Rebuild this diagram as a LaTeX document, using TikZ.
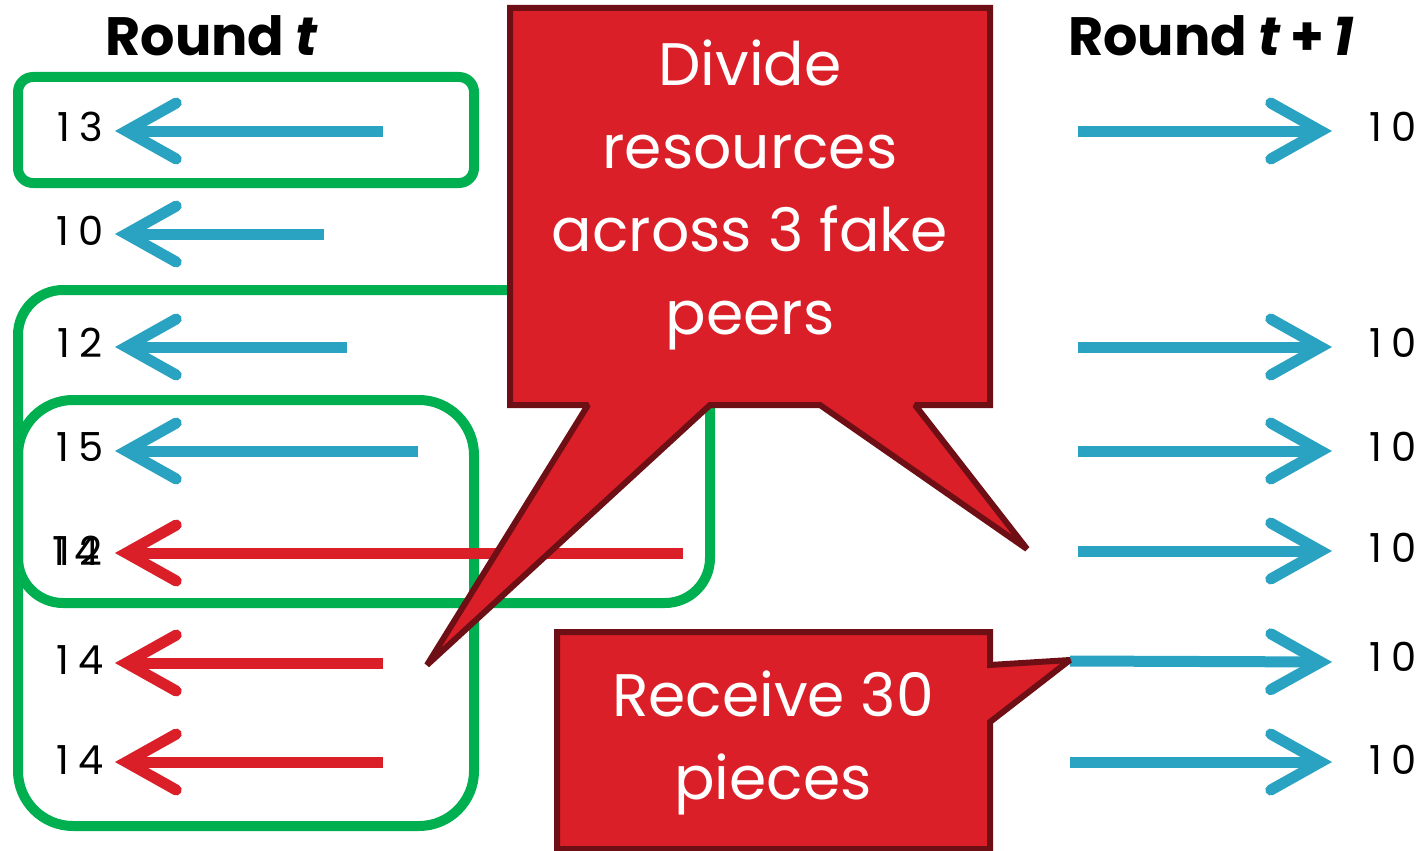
\documentclass[tikz,border=0pt]{standalone}
\usepackage{fontspec}
\setmainfont{Poppins}
\newfontfamily\numfont[LetterSpace=22]{Poppins}
\usetikzlibrary{arrows.meta}
\definecolor{cblue}{HTML}{2AA3C3}
\definecolor{cred}{HTML}{DA1F28}
\definecolor{cgreen}{HTML}{00B050}
\definecolor{cdark}{HTML}{6E0F15}
\begin{document}
\begin{tikzpicture}[x=1pt,y=-1pt,
  arr/.style={line width=11pt,-{Straight Barb[length=50pt,width=56pt,line cap=round,line join=miter]}},
  barr/.style={arr,cblue},
  rarr/.style={arr,cred},
  gbox/.style={draw=cgreen,line width=10pt},
  num/.style={inner sep=0pt,font=\fontsize{40}{40}\numfont},
  head/.style={inner sep=0pt,font=\fontsize{54}{54}\selectfont\bfseries},
  callout/.style={fill=cred,draw=cdark,line width=6pt,line join=miter,miter limit=2},
  ctext/.style={text=white,align=center,inner sep=0pt,font=\fontsize{60}{83}\selectfont}]
\useasboundingbox (0,0) rectangle (1422,851);
% headers
\node[head] (hL) at (212,36) {Round \textit{t}};
\node[head] (hR) at (1211,36) {Round \textit{t}\,+\,\textit{1}};
% green boxes
\draw[gbox,rounded corners=15pt] (18,77) rectangle (474,183);
\draw[gbox,rounded corners=45pt] (18,290) rectangle (710,603);
\draw[gbox,rounded corners=55pt] (18,400) rectangle (474,826);
% left numbers
\node[num] (l1) at (80,127) {13};
\node[num] (l2) at (80,231) {10};
\node[num] (l3) at (80,343) {12};
\node[num] (l4) at (80,447) {15};
\node[num] (l5a) at (80,551) {12};
\node[num] (l5b) at (76,551) {14};
\node[num] (l6) at (80,660) {14};
\node[num] (l7) at (80,760) {14};
% left arrow ends
\coordinate (t1) at (383,131); \coordinate (p1) at (115,131);
\coordinate (t2) at (324,234); \coordinate (p2) at (115,234);
\coordinate (t3) at (347,347); \coordinate (p3) at (115,347);
\coordinate (t4) at (418,451); \coordinate (p4) at (115,451);
\coordinate (t5) at (683,553); \coordinate (p5) at (115,553);
\coordinate (t6) at (383,663); \coordinate (p6) at (115,663);
\coordinate (t7) at (383,762); \coordinate (p7) at (115,762);
\draw[barr] (t1) -- (p1);
\draw[barr] (t2) -- (p2);
\draw[barr] (t3) -- (p3);
\draw[barr] (t4) -- (p4);
\draw[rarr] (t5) -- (p5);
\draw[rarr] (t6) -- (p6);
\draw[rarr] (t7) -- (p7);
% right numbers
\node[num] (r1) at (1393,127) {10};
\node[num] (r3) at (1393,343) {10};
\node[num] (r4) at (1393,447) {10};
\node[num] (r5) at (1393,548) {10};
\node[num] (r6) at (1393,657) {10};
\node[num] (r7) at (1393,760) {10};
\coordinate (s1) at (1078,131); \coordinate (q1) at (1332,131);
\coordinate (s3) at (1078,347); \coordinate (q3) at (1332,347);
\coordinate (s4) at (1078,451); \coordinate (q4) at (1332,451);
\coordinate (s5) at (1078,551); \coordinate (q5) at (1332,551);
\coordinate (s6) at (1070,661); \coordinate (q6) at (1332,662);
\coordinate (s7) at (1070,762); \coordinate (q7) at (1332,762);
\draw[barr] (s1) -- (q1);
\draw[barr] (s3) -- (q3);
\draw[barr] (s4) -- (q4);
\draw[barr] (s5) -- (q5);
\draw[barr] (s6) -- (q6);
\draw[barr] (s7) -- (q7);
% callout 1
\draw[callout] (510,8) -- (990,8) -- (990,405) -- (915,405) -- (1027,549) -- (820,405)
  -- (710,405) -- (427,665) -- (588,405) -- (510,405) -- cycle;
\node[ctext] (c1) at (750,195) {Divide\\resources\\across 3 fake\\peers};
% callout 2
\draw[callout] (557,632) -- (990,632) -- (990,665) -- (1070,660) -- (990,722) -- (990,849)
  -- (557,849) -- cycle;
\node[ctext] (c2) at (773,743) {Receive 30\\pieces};
\end{tikzpicture}
\end{document}
